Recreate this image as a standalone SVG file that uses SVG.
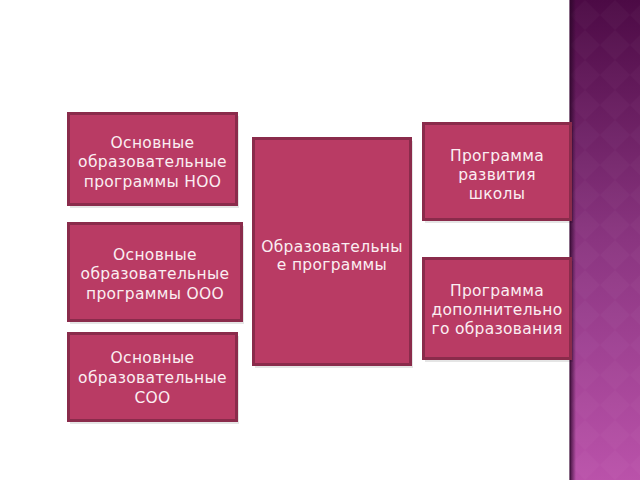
<svg xmlns="http://www.w3.org/2000/svg" width="640" height="480" viewBox="0 0 640 480">
<defs>
<linearGradient id="strip" x1="0" y1="0" x2="0" y2="1">
<stop offset="0" stop-color="#4c0a45"/>
<stop offset="0.5" stop-color="#8a3580"/>
<stop offset="1" stop-color="#ba52aa"/>
</linearGradient>
<pattern id="dia" width="30" height="30" patternUnits="userSpaceOnUse">
<path d="M15 0 L30 15 L15 30 L0 15 Z" fill="#ffffff" fill-opacity="0.025"/>
</pattern>
<linearGradient id="edge" x1="0" y1="0" x2="1" y2="0">
<stop offset="0" stop-color="#2a0628" stop-opacity="0.8"/>
<stop offset="1" stop-color="#2a0628" stop-opacity="0"/>
</linearGradient>
</defs>
<style>
.box{fill:#b93b64;stroke:#8a2b4b;stroke-width:3}
.sh{fill:#000;fill-opacity:0.1}
.t{font-family:"DejaVu Sans",sans-serif;font-size:15.5px;letter-spacing:0.3px;fill:#fbeef2;text-anchor:middle}
</style>
<rect width="640" height="480" fill="#ffffff"/>
<g id="strip-bg">
<rect x="570" y="0" width="70" height="480" fill="url(#strip)"/>
<rect x="570" y="0" width="70" height="480" fill="url(#dia)"/>
<rect x="570" y="0" width="6" height="480" fill="url(#edge)"/>
<rect x="569" y="0" width="1.5" height="480" fill="#3a0836" fill-opacity="0.6"/>
</g>
<g id="connectors"></g>
<g id="n1">
<rect class="sh" x="70" y="116" width="169" height="92"/>
<rect class="box" x="68.5" y="113.5" width="168" height="91"/>
<text class="t" x="152.5" y="148">Основные</text>
<text class="t" x="152.5" y="167">образовательные</text>
<text class="t" x="152.5" y="187">программы НОО</text>
</g>
<g id="n2">
<rect class="sh" x="70" y="226" width="174" height="98"/>
<rect class="box" x="68.5" y="223.5" width="173" height="97"/>
<text class="t" x="155" y="260">Основные</text>
<text class="t" x="155" y="279">образовательные</text>
<text class="t" x="155" y="299">программы ООО</text>
</g>
<g id="n3">
<rect class="sh" x="70" y="336" width="169" height="88"/>
<rect class="box" x="68.5" y="333.5" width="168" height="87"/>
<text class="t" x="152.5" y="363">Основные</text>
<text class="t" x="152.5" y="383">образовательные</text>
<text class="t" x="152.5" y="403">СОО</text>
</g>
<g id="center">
<rect class="sh" x="255" y="141" width="158" height="227"/>
<rect class="box" x="253.5" y="138.5" width="157" height="226"/>
<text class="t" x="332" y="252">Образовательны</text>
<text class="t" x="332" y="270">е программы</text>
</g>
<g id="r1">
<rect class="sh" x="425" y="126" width="148" height="97"/>
<rect class="box" x="423.5" y="123.5" width="147" height="96"/>
<text class="t" x="497" y="161">Программа</text>
<text class="t" x="497" y="180">развития</text>
<text class="t" x="497" y="199">школы</text>
</g>
<g id="r2">
<rect class="sh" x="425" y="261" width="148" height="101"/>
<rect class="box" x="423.5" y="258.5" width="147" height="100"/>
<text class="t" x="497" y="296">Программа</text>
<text class="t" x="497" y="315">дополнительно</text>
<text class="t" x="497" y="334">го образования</text>
</g>
</svg>
